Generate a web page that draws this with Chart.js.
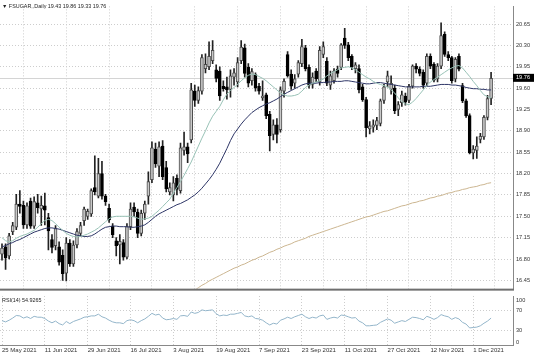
<!DOCTYPE html>
<html><head><meta charset="utf-8">
<script src="https://cdn.jsdelivr.net/npm/chart.js@4.4.0/dist/chart.umd.min.js"></script>
<style>
html,body{margin:0;padding:0;background:#fff;}
#wrap{position:relative;width:536px;height:357px;overflow:hidden;background:#fff;}
canvas{position:absolute;left:0;}
#c1{top:0;} #c2{top:295px;}
.lbl{position:absolute;font-family:"Liberation Sans",Arial,sans-serif;color:#222;white-space:nowrap;line-height:1;transform-origin:0 0;transform:scale(0.5);font-size:10.8px;}
</style></head><body>
<div id="wrap">
<canvas id="c1" width="536" height="295"></canvas>
<canvas id="c2" width="536" height="62"></canvas>
<div class="lbl" id="hdr" style="left:2px;top:3px;"></div>
<div class="lbl" id="rsiLbl" style="left:2px;top:297px;"></div>
</div>
<script>
const symbol = 'FSUGAR,,Daily';
const dateLabels = ['25 May 2021','11 Jun 2021','29 Jun 2021','16 Jul 2021','3 Aug 2021','19 Aug 2021','7 Sep 2021','23 Sep 2021','11 Oct 2021','27 Oct 2021','12 Nov 2021','1 Dec 2021'];
const dateIdx = [0,12,24,36,48,60,72,84,96,108,120,132];
const priceTicks = [16.45,16.80,17.15,17.50,17.85,18.20,18.55,18.90,19.25,19.60,19.95,20.30,20.65];
const priceTickLabels = ['16.45','16.80','17.15','17.50','17.85','18.20','18.55','18.90','19.25','19.60','19.95','20.30','20.65'];
const rsiTicks = [0,30,70,100];
const rsiTickLabels = ['0','30','70','100'];

const open = [16.88,17.00,16.85,17.25,17.32,17.70,17.68,17.36,17.75,17.34,17.72,17.62,17.67,17.48,17.12,17.02,17.00,16.86,16.57,17.06,
16.72,17.03,17.22,17.43,17.50,17.54,17.97,17.83,18.20,17.83,17.63,17.34,17.10,17.03,17.07,16.83,17.33,17.65,17.57,17.22,
17.55,17.83,18.10,18.60,18.32,18.65,18.30,17.90,17.85,18.12,17.92,18.58,18.64,18.75,19.55,19.40,19.55,19.92,19.95,20.05,
19.90,19.88,19.63,19.62,19.58,19.78,19.70,20.05,20.26,19.94,19.72,19.82,19.63,19.44,19.49,19.17,18.84,19.00,18.92,19.55,
20.15,19.83,19.68,19.83,20.00,20.26,19.94,19.66,19.88,19.70,20.15,20.04,19.65,19.72,19.91,19.94,20.42,20.31,20.12,19.92,
19.92,19.62,19.41,18.93,18.96,18.99,19.02,19.40,19.70,19.58,19.60,19.25,19.36,19.47,19.40,19.63,19.96,19.91,19.86,19.68,
20.12,19.99,19.75,19.96,20.48,20.15,20.10,19.75,20.12,19.64,19.39,19.15,18.54,18.58,18.76,18.80,19.12,19.43];
const high = [17.05,17.05,17.22,17.40,17.86,17.92,17.75,17.72,17.80,17.82,17.86,17.83,17.88,17.55,17.20,17.35,17.08,16.95,17.15,17.12,
17.10,17.30,17.40,17.65,17.62,17.95,18.49,18.45,18.40,17.86,17.70,17.38,17.15,17.20,17.12,17.38,17.72,17.72,17.62,17.60,
17.75,18.23,18.72,18.70,18.72,18.74,18.40,18.05,18.15,18.18,18.70,18.88,18.70,19.68,19.65,19.62,20.15,20.16,20.36,20.38,
19.98,19.95,19.72,19.78,19.90,19.92,20.10,20.38,20.32,20.00,19.92,19.85,19.68,19.72,19.52,19.22,19.08,19.10,19.62,19.75,
20.20,19.90,19.82,20.05,20.40,20.30,19.98,19.85,19.92,20.28,20.36,20.10,19.88,19.92,19.96,20.33,20.58,20.35,20.15,20.02,
19.98,19.66,19.45,19.05,19.08,19.12,19.42,19.66,19.88,19.80,19.65,19.38,19.55,19.52,19.66,19.98,20.00,19.95,19.90,20.16,
20.16,20.02,20.00,20.67,20.52,20.20,20.12,20.10,20.16,19.68,19.42,19.18,18.66,18.80,18.86,19.15,19.48,19.86];
const low = [16.78,16.63,16.80,17.20,17.28,17.55,17.30,17.30,17.30,17.30,17.55,17.35,17.36,16.95,16.90,16.95,16.70,16.45,16.44,16.68,
16.68,16.98,17.18,17.35,17.45,17.50,17.85,17.80,17.78,17.68,17.40,17.15,16.85,16.72,16.78,16.80,17.28,17.50,17.15,17.18,
17.45,17.70,18.05,18.30,18.15,18.10,17.90,17.85,17.75,17.85,17.88,18.50,18.38,18.70,19.30,19.35,19.50,19.85,19.90,20.00,
19.70,19.40,19.55,19.42,19.45,19.65,19.62,20.00,19.78,19.62,19.65,19.55,19.50,19.40,19.10,18.57,18.75,18.70,18.88,19.45,
19.78,19.58,19.60,19.78,19.95,19.88,19.60,19.60,19.70,19.65,20.10,19.64,19.58,19.68,19.78,19.90,20.25,20.05,19.90,19.85,
19.52,19.38,18.80,18.85,18.88,18.92,18.98,19.35,19.62,19.50,19.18,19.15,19.30,19.32,19.36,19.60,19.85,19.80,19.60,19.64,
19.92,19.70,19.70,19.92,20.12,20.05,19.68,19.70,19.88,19.36,19.12,18.52,18.44,18.45,18.70,18.76,19.08,19.33];
const close = [16.98,16.82,17.18,17.35,17.70,17.66,17.36,17.67,17.34,17.74,17.64,17.68,17.60,17.26,16.99,17.30,16.75,16.56,17.06,16.72,
17.03,17.25,17.35,17.62,17.58,17.92,17.90,18.20,17.83,17.74,17.44,17.20,17.02,17.09,16.83,17.33,17.62,17.57,17.22,17.55,
17.70,18.07,18.62,18.36,18.64,18.15,17.95,17.97,18.05,17.94,18.62,18.64,18.52,19.57,19.40,19.56,20.10,19.99,20.12,20.22,
19.76,19.47,19.59,19.57,19.80,19.85,20.02,20.27,19.84,19.68,19.87,19.60,19.55,19.47,19.15,18.82,19.00,18.84,19.57,19.71,
19.80,19.63,19.75,20.02,20.28,19.92,19.65,19.78,19.75,20.22,20.28,19.68,19.80,19.88,19.84,20.31,20.30,20.10,19.95,19.98,
19.57,19.41,18.95,18.98,19.00,19.07,19.39,19.62,19.80,19.68,19.23,19.33,19.49,19.37,19.63,19.96,19.91,19.84,19.65,20.12,
19.96,19.73,19.96,20.46,20.15,20.10,19.72,20.07,19.91,19.39,19.15,18.54,18.60,18.65,18.81,19.12,19.43,19.76];

const fastMA = [17.15,17.10,17.08,17.10,17.14,17.17,17.19,17.21,17.24,17.27,17.32,17.38,17.43,17.45,17.43,17.38,17.32,17.27,17.22,17.19,
17.17,17.16,17.17,17.19,17.21,17.24,17.27,17.31,17.36,17.41,17.46,17.49,17.50,17.50,17.50,17.50,17.50,17.49,17.47,17.45,
17.46,17.47,17.50,17.55,17.60,17.66,17.72,17.78,17.88,17.97,18.07,18.17,18.28,18.39,18.52,18.65,18.78,18.90,19.03,19.14,
19.22,19.30,19.41,19.50,19.56,19.61,19.66,19.72,19.77,19.81,19.83,19.82,19.79,19.76,19.72,19.67,19.62,19.57,19.52,19.49,
19.47,19.47,19.48,19.50,19.55,19.61,19.65,19.68,19.70,19.72,19.75,19.80,19.84,19.87,19.90,19.93,19.94,19.95,19.93,19.90,
19.86,19.82,19.78,19.75,19.71,19.68,19.66,19.64,19.62,19.57,19.52,19.44,19.38,19.34,19.33,19.37,19.43,19.50,19.57,19.64,
19.70,19.74,19.78,19.82,19.86,19.90,19.93,19.96,19.97,19.93,19.86,19.79,19.71,19.64,19.56,19.49,19.46,19.44];
const midMA = [17.00,17.02,17.05,17.07,17.10,17.12,17.15,17.18,17.21,17.24,17.26,17.28,17.30,17.31,17.31,17.30,17.29,17.27,17.25,17.23,
17.21,17.19,17.18,17.17,17.17,17.18,17.21,17.25,17.29,17.32,17.33,17.34,17.34,17.33,17.33,17.33,17.32,17.32,17.33,17.34,
17.36,17.40,17.45,17.50,17.54,17.57,17.60,17.63,17.66,17.69,17.71,17.74,17.77,17.81,17.85,17.90,17.96,18.03,18.10,18.18,
18.27,18.37,18.49,18.61,18.74,18.85,18.93,19.01,19.08,19.14,19.20,19.24,19.28,19.31,19.34,19.36,19.39,19.42,19.46,19.50,
19.53,19.56,19.59,19.62,19.65,19.67,19.68,19.68,19.68,19.69,19.69,19.70,19.70,19.71,19.71,19.71,19.72,19.72,19.71,19.70,
19.69,19.68,19.67,19.67,19.68,19.69,19.69,19.68,19.67,19.66,19.65,19.64,19.63,19.62,19.62,19.62,19.62,19.62,19.63,19.63,
19.63,19.64,19.65,19.66,19.66,19.66,19.65,19.65,19.64,19.63,19.61,19.60,19.59,19.59,19.58,19.58,19.57,19.57];
const slowStart = 54;
const slowMA = [16.29,16.33,16.37,16.40,16.44,16.47,16.50,16.53,16.56,16.59,16.62,16.65,16.67,16.70,16.72,16.75,16.78,16.80,16.83,16.85,
16.88,16.91,16.93,16.96,16.98,17.01,17.03,17.05,17.08,17.10,17.12,17.14,17.17,17.19,17.21,17.23,17.25,17.27,17.29,17.31,
17.33,17.35,17.37,17.39,17.41,17.43,17.45,17.47,17.49,17.50,17.52,17.54,17.56,17.58,17.59,17.61,17.63,17.65,17.67,17.68,
17.70,17.72,17.73,17.75,17.76,17.78,17.80,17.81,17.83,17.84,17.86,17.88,17.89,17.91,17.92,17.94,17.95,17.97,17.98,17.99,
18.01,18.02,18.04,18.05];
const rsi = [49.7,47.1,50.6,55.0,60.2,59.4,55.0,57.6,54.1,58.5,56.7,56.7,54.1,48.8,45.3,48.8,43.6,40.9,48.0,43.6,
48.0,50.6,53.2,56.7,57.6,59.4,59.4,62.9,57.6,55.0,50.6,47.1,45.3,45.3,43.6,49.7,51.5,49.7,45.3,49.7,
53.2,58.5,64.6,61.1,62.9,55.0,51.5,52.3,54.1,52.3,59.4,60.2,58.5,67.3,64.6,66.4,71.7,69.9,70.8,71.7,
63.8,59.4,61.1,60.2,62.9,62.9,64.6,66.4,59.4,57.6,59.4,54.1,53.2,50.6,45.3,40.9,44.4,42.7,50.6,53.2,
56.7,54.1,57.6,60.2,62.9,57.6,54.1,56.7,55.0,59.4,61.1,52.3,55.0,56.7,55.0,61.1,60.2,57.6,55.0,55.9,
48.8,45.3,39.2,39.2,40.1,40.9,46.2,49.7,53.2,50.6,44.4,47.1,49.7,48.0,52.3,56.7,55.9,54.1,51.5,58.5,
55.9,52.3,55.9,62.0,59.4,57.6,52.3,55.9,53.2,46.2,42.7,34.8,35.7,36.5,39.2,44.4,48.8,54.9265];

const N = close.length, last = N - 1;
const xMin = -0.56, xMax = 143.14;
const yMin = 16.315, yMax = 20.939;
const rMin = 0, rMax = 100;

document.getElementById('hdr').textContent = '\u25BC ' + symbol + ' ' + open[last].toFixed(2) + ' ' + high[last].toFixed(2) + ' ' + low[last].toFixed(2) + ' ' + close[last].toFixed(2);
document.getElementById('rsiLbl').textContent = 'RSI(14) ' + rsi[last].toFixed(4);

const FONT = '"Liberation Sans", Arial, sans-serif';
const GRID = '#cdcdcd';
const idx = close.map((_, i) => i);
const bull = idx.map(i => close[i] >= open[i]);
const pts = (arr, off = 0) => arr.map((v, i) => ({x: i + off, y: v}));

const panel1 = {
  id: 'panel1',
  beforeDatasetsDraw(chart) {
    const {ctx, chartArea: a, scales: {y}} = chart;
    const py = Math.round(y.getPixelForValue(close[last])) + 0.5;
    ctx.save();
    ctx.strokeStyle = '#d4d4d4'; ctx.lineWidth = 1;
    ctx.beginPath(); ctx.moveTo(a.left, py); ctx.lineTo(a.right, py); ctx.stroke();
    ctx.restore();
  },
  afterDraw(chart) {
    const {ctx, chartArea: a, scales: {y}} = chart;
    ctx.save();
    ctx.fillStyle = '#6f6f6f';
    ctx.fillRect(0, a.bottom, a.right + 1, 2);
    const py = y.getPixelForValue(close[last]);
    ctx.fillStyle = '#000';
    ctx.fillRect(a.right, py - 4.5, 21, 8);
    ctx.fillStyle = '#fff';
    ctx.font = '5.6px ' + FONT;
    ctx.textBaseline = 'middle'; ctx.textAlign = 'left';
    ctx.fillText(close[last].toFixed(2), a.right + 3, py - 0.5);
    ctx.restore();
  }
};

new Chart(document.getElementById('c1'), {
  type: 'bar',
  data: {datasets: [
    {type: 'line', data: pts(fastMA), borderColor: '#98c2b6', borderWidth: 1, pointRadius: 0, tension: 0, order: 1},
    {type: 'line', data: pts(midMA), borderColor: '#2d3566', borderWidth: 1, pointRadius: 0, tension: 0, order: 1},
    {type: 'line', data: pts(slowMA, slowStart), borderColor: '#ccb691', borderWidth: 1, pointRadius: 0, tension: 0, order: 1},
    {type: 'bar', data: idx.map(i => ({x: i, y: [low[i], high[i]]})), backgroundColor: '#222', borderWidth: 0,
     grouped: false, maxBarThickness: 1, barPercentage: 1, categoryPercentage: 1, order: 3},
    {type: 'bar', data: idx.map(i => ({x: i, y: [open[i], close[i]]})),
     backgroundColor: idx.map(i => bull[i] ? '#c9c9c9' : '#000'),
     borderColor: idx.map(i => bull[i] ? '#4a4a4a' : '#000'), borderWidth: 1, borderSkipped: false,
     grouped: false, maxBarThickness: 3, barPercentage: 1, categoryPercentage: 1, order: 2}
  ]},
  options: {
    responsive: false, animation: false, devicePixelRatio: 1,
    layout: {padding: 0},
    plugins: {legend: {display: false}, tooltip: {enabled: false}},
    scales: {
      x: {type: 'linear', min: xMin, max: xMax, offset: false,
        afterBuildTicks: s => { s.ticks = dateIdx.map(v => ({value: v})); },
        ticks: {display: false},
        grid: {color: GRID, drawTicks: false},
        border: {display: false, dash: [1, 2]},
        afterFit: s => { s.height = 2; }},
      y: {type: 'linear', position: 'right', min: yMin, max: yMax,
        afterBuildTicks: s => { s.ticks = priceTicks.map(v => ({value: v})); },
        ticks: {callback: (v, i) => priceTickLabels[i], font: {family: FONT, size: 5.6}, color: '#333', padding: 3, autoSkip: false},
        grid: {color: GRID, drawTicks: false},
        border: {display: true, color: '#888', width: 1, dash: [1, 2]},
        afterFit: s => { s.width = 23; }}
    }
  },
  plugins: [panel1]
});

const rsiLabelShift = {0: -2.5, 30: 0, 70: -0.5, 100: 4};
const panel2 = {
  id: 'panel2',
  afterDraw(chart) {
    const {ctx, chartArea: a, scales: {y}} = chart;
    ctx.save();
    ctx.fillStyle = '#888';
    ctx.fillRect(0, Math.round(a.bottom), a.right + 1, 1);
    ctx.fillStyle = '#333';
    ctx.font = '5.6px ' + FONT;
    ctx.textBaseline = 'middle'; ctx.textAlign = 'left';
    rsiTicks.forEach((v, i) => {
      ctx.fillText(rsiTickLabels[i], a.right + 3, y.getPixelForValue(v) + rsiLabelShift[v]);
    });
    ctx.restore();
  }
};

new Chart(document.getElementById('c2'), {
  type: 'line',
  data: {datasets: [
    {data: pts(rsi), borderColor: '#93b5ca', borderWidth: 1, pointRadius: 0, tension: 0}
  ]},
  options: {
    responsive: false, animation: false, devicePixelRatio: 1,
    layout: {padding: {top: 1}},
    plugins: {legend: {display: false}, tooltip: {enabled: false}},
    scales: {
      x: {type: 'linear', min: xMin, max: xMax, offset: false,
        afterBuildTicks: s => { s.ticks = dateIdx.map(v => ({value: v})); },
        ticks: {callback: (v, i) => dateLabels[i], align: 'start', autoSkip: false, maxRotation: 0,
          font: {family: FONT, size: 6}, color: '#333', padding: 2},
        grid: {color: GRID, drawTicks: false},
        border: {display: false, dash: [1, 2]},
        afterFit: s => { s.height = 12; }},
      y: {type: 'linear', position: 'right', min: rMin, max: rMax,
        afterBuildTicks: s => { s.ticks = rsiTicks.map(v => ({value: v})); },
        ticks: {display: false},
        grid: {color: c => (c.tick && (c.tick.value === 30 || c.tick.value === 70)) ? GRID : 'rgba(0,0,0,0)', drawTicks: false},
        border: {display: true, color: '#888', width: 1, dash: [1, 2]},
        afterFit: s => { s.width = 23; }}
    }
  },
  plugins: [panel2]
});
</script>
</body></html>
